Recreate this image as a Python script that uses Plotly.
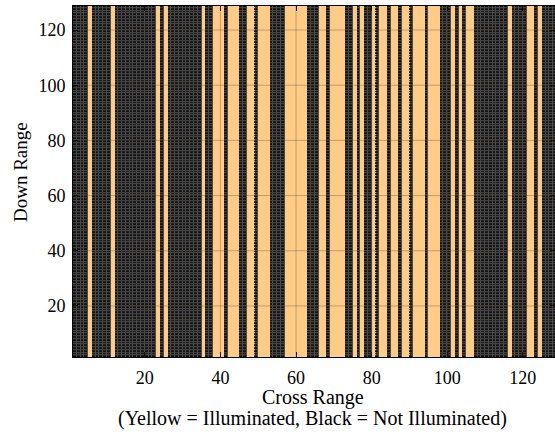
import numpy as np
import plotly.graph_objects as go

# Illumination map: every cross-range column is either lit or dark for the full down-range extent
n_cross = 128
n_down = 128
illuminated_columns = [5, 11, 23, 25, 35, 38, 39, 40, 42, 43, 44, 47, 48, 50, 51, 52,
                       57, 58, 59, 60, 61, 62, 66, 67, 69, 70, 71, 72, 75, 77, 80, 82, 83,
                       85, 86, 88, 89, 91, 92, 93, 95, 96, 97, 101, 103, 105, 106, 116,
                       121, 122, 124]
x_ticks = [20, 40, 60, 80, 100, 120]
y_ticks = [20, 40, 60, 80, 100, 120]

YELLOW = "#FFCC88"
DARK = "#141414"
MESH = "#4a4a4a"
FONT = "Liberation Serif, Times New Roman, serif"

edges_x = np.arange(1, n_cross + 2)
edges_y = np.arange(1, n_down + 2)
lit = np.zeros(n_cross)
lit[np.array(illuminated_columns) - 1] = 1
grid = np.tile(lit, (n_down, 1))
yellow_z = np.where(grid == 1, 1.0, np.nan)
dark_z = np.where(grid == 0, 0.0, np.nan)

fig = go.Figure()
fig.add_trace(go.Heatmap(x=edges_x, y=edges_y, z=yellow_z,
                         colorscale=[[0, YELLOW], [1, YELLOW]],
                         showscale=False, hoverinfo="skip"))
fig.add_trace(go.Heatmap(x=edges_x, y=edges_y, z=dark_z,
                         colorscale=[[0, DARK], [1, DARK]],
                         showscale=False, hoverinfo="skip", xgap=1, ygap=1))

# faint grid lines at the tick positions, drawn over the cells
for t in x_ticks:
    fig.add_shape(type="line", xref="x", yref="paper", x0=t, x1=t, y0=0, y1=1,
                  line=dict(color="rgba(90,70,40,0.35)", width=1), layer="above")
for t in y_ticks:
    fig.add_shape(type="line", xref="paper", yref="y", x0=0, x1=1, y0=t, y1=t,
                  line=dict(color="rgba(90,70,40,0.35)", width=1), layer="above")

axis_common = dict(showgrid=False, zeroline=False, ticks="inside", ticklen=5,
                   tickcolor="#000", showline=True, linecolor="#000", linewidth=1,
                   mirror="ticks", layer="above traces",
                   tickfont=dict(family=FONT, size=18, color="#000"))
fig.update_xaxes(range=[1, 128.5], tickvals=x_ticks, ticklabelstandoff=4, **axis_common)
fig.update_yaxes(range=[1.5, 128.7], tickvals=y_ticks, ticklabelstandoff=3, **axis_common)

fig.add_annotation(text="Cross Range", xref="paper", yref="paper", x=0.497, y=-0.114,
                   xanchor="center", yanchor="middle", showarrow=False,
                   font=dict(family=FONT, size=20, color="#000"))
fig.add_annotation(text="(Yellow = Illuminated, Black = Not Illuminated)", xref="paper",
                   yref="paper", x=0.497, y=-0.174, xanchor="center", yanchor="middle",
                   showarrow=False, font=dict(family=FONT, size=20, color="#000"))
fig.add_annotation(text="Down Range", xref="paper", yref="paper", x=-0.110, y=0.527,
                   xanchor="center", yanchor="middle", textangle=-90, showarrow=False,
                   font=dict(family=FONT, size=19, color="#000"))

fig.update_layout(width=555, height=437, margin=dict(l=73, r=0, t=6, b=80),
                  paper_bgcolor="white", plot_bgcolor=MESH, showlegend=False)

fig.write_html("out.html")
